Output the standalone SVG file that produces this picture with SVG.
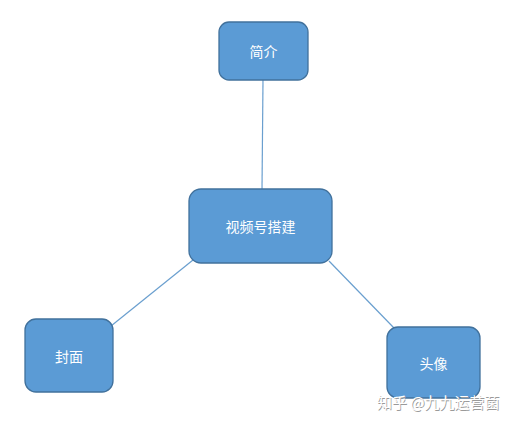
<svg xmlns="http://www.w3.org/2000/svg" width="516" height="424" viewBox="0 0 516 424">
<style>
.box{fill:#5b9bd5;stroke:#41719c;stroke-width:1.3}
.lbl{fill:#ffffff;font-family:"Noto Sans CJK SC","Liberation Sans",sans-serif;font-size:14px;text-anchor:middle;dominant-baseline:central}
.conn{stroke:#6a9fcf;stroke-width:1.2;fill:none}
.wm{font-family:"Noto Sans CJK SC","Liberation Sans",sans-serif;font-size:15px}
</style>
<rect width="516" height="424" fill="#ffffff"/>
<g id="connectors">
<line class="conn" x1="263" y1="80" x2="262" y2="189"/>
<line class="conn" x1="193" y1="260" x2="111" y2="326"/>
<line class="conn" x1="329" y1="261" x2="394" y2="328"/>
</g>
<g id="node-jianjie">
<rect class="box" x="219" y="22" width="89" height="58" rx="10"/>
<text class="lbl" x="263.5" y="51">简介</text>
</g>
<g id="node-main">
<rect class="box" x="189" y="189" width="143" height="74" rx="12"/>
<text class="lbl" x="260.5" y="226">视频号搭建</text>
</g>
<g id="node-fengmian">
<rect class="box" x="25" y="319" width="88" height="73" rx="11"/>
<text class="lbl" x="69" y="355.5">封面</text>
</g>
<g id="node-touxiang">
<rect class="box" x="387" y="327" width="93" height="71" rx="11"/>
<text class="lbl" x="433.5" y="362.5">头像</text>
</g>
<g id="watermark">
<text class="wm" x="377" y="408" fill="#9a9a9a" transform="translate(0.8,0.8)">知乎 @九九运营菌</text>
<text class="wm" x="377" y="408" fill="#ffffff">知乎 @九九运营菌</text>
</g>
</svg>
